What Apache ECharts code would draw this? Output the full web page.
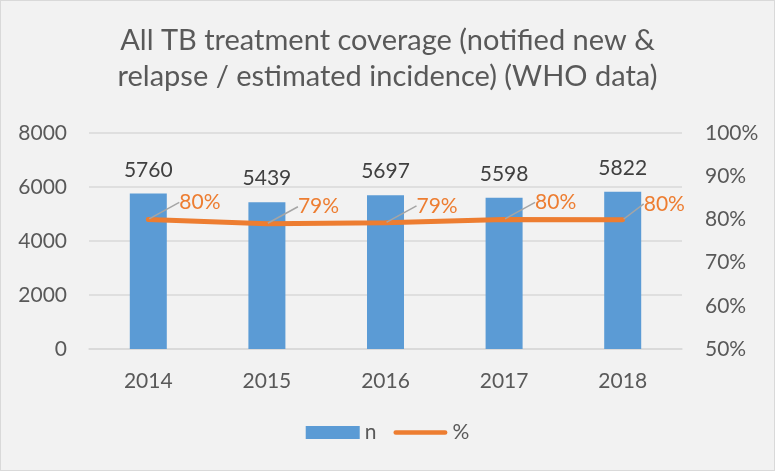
<!DOCTYPE html>
<html>
<head>
<meta charset="utf-8">
<script src="https://cdn.jsdelivr.net/npm/echarts@6/dist/echarts.min.js"></script>
<style>
  html, body { margin: 0; padding: 0; background: #fff; }
  #chart { width: 773px; height: 469px; border: 1px solid #d9d9d9; background: #f2f2f2; }
</style>
</head>
<body>
<div id="chart"></div>
<script>
// data
const years = ['2014', '2015', '2016', '2017', '2018'];
const nValues = [5760, 5439, 5697, 5598, 5822];
const pctValues = [0.80, 0.79, 0.792, 0.80, 0.799];

const font = 'Lato, "Open Sans", sans-serif';
const textColor = '#595959';
const lastIdx = pctValues.length - 1;

const chart = echarts.init(document.getElementById('chart'));

chart.setOption({
  backgroundColor: '#f2f2f2',
  textStyle: { fontFamily: font },
  title: {
    text: 'All TB treatment coverage (notified new &\nrelapse / estimated incidence) (WHO data)',
    left: 'center',
    top: 17,
    textStyle: { fontFamily: font, fontSize: 29, fontWeight: 'normal', color: textColor, lineHeight: 36 }
  },
  grid: { left: 88, right: 92, top: 132, bottom: 121 },
  legend: {
    bottom: 22,
    left: 'center',
    itemGap: 17,
    itemWidth: 54,
    itemHeight: 13,
    textStyle: { fontFamily: font, fontSize: 21, color: textColor },
    data: [
      { name: 'n', icon: 'rect' },
      { name: '%', icon: 'path://M2,0 L54,0 A2.5,2.5 0 0 1 54,5 L2,5 A2.5,2.5 0 0 1 2,0 Z' }
    ]
  },
  xAxis: {
    type: 'category',
    data: years,
    axisTick: { show: false },
    axisLine: { lineStyle: { color: '#d9d9d9', width: 1.5 } },
    axisLabel: { fontSize: 21, color: textColor, margin: 22 }
  },
  yAxis: [
    {
      type: 'value',
      min: 0, max: 8000, interval: 2000,
      axisLabel: { fontSize: 21, color: textColor, margin: 22, formatter: v => String(v) },
      splitLine: { lineStyle: { color: '#d9d9d9', width: 1.5 } }
    },
    {
      type: 'value',
      min: 0.5, max: 1, interval: 0.1,
      axisLabel: {
        fontSize: 21, color: textColor, margin: 23,
        formatter: v => Math.round(v * 100) + '%'
      },
      splitLine: { show: false }
    }
  ],
  series: [
    {
      name: 'n',
      type: 'bar',
      data: nValues,
      barWidth: 37,
      itemStyle: { color: '#5b9bd5' },
      label: { show: true, position: 'top', distance: 13, fontSize: 21, color: '#404040' }
    },
    {
      name: '%',
      type: 'line',
      yAxisIndex: 1,
      data: pctValues,
      symbol: 'circle',
      symbolSize: 2,
      showSymbol: true,
      lineStyle: { color: '#ed7d31', width: 5, cap: 'round' },
      itemStyle: { color: '#ed7d31' },
      label: {
        show: true,
        position: 'right',
        distance: 5,
        fontSize: 21,
        color: '#ed7d31',
        formatter: p => Math.round(p.value * 100) + '%'
      },
      labelLayout: p => p.dataIndex === lastIdx ? { dx: 15, dy: -16 } : { dx: 25, dy: -17 },
      labelLine: { show: true, lineStyle: { color: '#a5a5a5', width: 1.5 } }
    }
  ]
});
</script>
</body>
</html>
